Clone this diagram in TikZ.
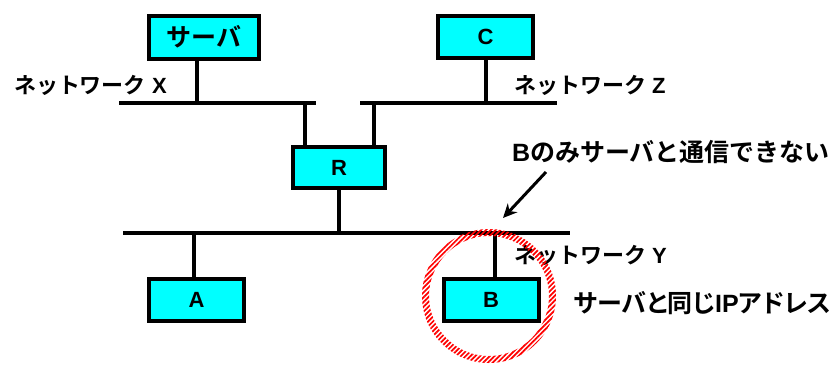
\documentclass[tikz,border=0pt]{standalone}
\usepackage{fontspec}
\setmainfont{Liberation Sans}
\newfontfamily\jp{Noto Sans CJK JP}[BoldFont={Noto Sans CJK JP Bold}]
\newfontfamily\jpp{Noto Sans CJK JP}[BoldFont={Noto Sans CJK JP Bold}, RawFeature=+palt]
\usetikzlibrary{arrows.meta,patterns.meta}
\definecolor{hostcyan}{rgb}{0,1,1}

\begin{document}
\begin{tikzpicture}[x=1pt, y=-1pt, line width=4pt, line cap=rect]

	\tikzstyle{host}=[draw, fill=hostcyan, minimum width=95pt, minimum height=42pt,
	                  inner sep=0pt, font=\fontsize{22}{22}\selectfont\bfseries]
	\tikzstyle{lbl}=[anchor=west, inner sep=0pt, font=\fontsize{22}{22}\selectfont\bfseries]
	\tikzstyle{big}=[anchor=west, inner sep=0pt, font=\fontsize{25}{25}\selectfont\bfseries]
    \def\busx{103}
    \def\busy{233}

    \useasboundingbox (0,0) rectangle (836,365);

    % hosts
    \node [host, minimum width=110pt, minimum height=43pt,
           font=\fontsize{25}{25}\selectfont\bfseries\jp] (srv) at (204,37) {サーバ};
    \node [host] (C) at (485.5,37) {C};
    \node [host, minimum width=92pt, minimum height=41pt] (R) at (339,167.5) {R};
    \node [host] (A) at (196.5,300) {A};
    \node [host] (B) at (491,300) {B};

    % buses
    \coordinate (xl) at (121,\busx);
    \coordinate (xr) at (314,\busx);
    \coordinate (zl) at (362,\busx);
    \coordinate (zr) at (555,\busx);
    \coordinate (yl) at (125,\busy);
    \coordinate (yr) at (568,\busy);
    \draw (xl) -- (xr);
    \draw (zl) -- (zr);
    \draw (yl) -- (yr);

    % drops
    \draw (srv.south -| 197,0) -- (197,\busx);
    \draw (C.south) -- (C.south |- zl);
    \draw (305,\busx) -- (R.north -| 305,0);
    \draw (374,\busx) -- (R.north -| 374,0);
    \draw (R.south) -- (R.south |- yl);
    \draw (194,\busy) -- (A.north -| 194,0);
    \draw (495,\busy) -- (B.north -| 495,0);

    % labels
    \node [lbl] (netX) at (12,85) {\jp ネットワーク\rmfamily\bfseries{} X};
    \node [lbl] (netZ) at (512,85) {\jp ネットワーク\rmfamily\bfseries{} Z};
    \node [lbl] (netY) at (512,255) {\jp ネットワーク\rmfamily\bfseries{} Y};
    \node [big] (note) at (510,152) {B\jp のみサーバと通信できない};
    \node [big] (same) at (572,303) {{\jpp サーバと同じ}IP{\jpp アドレス}};

    % red ring round B
    \coordinate (ring) at (489,296);
    \fill [pattern={Lines[angle=45, distance=3.4pt, line width=1.7pt]}, pattern color=red, even odd rule]
      (ring) circle (67pt) (ring) circle (60pt);

    % arrow to B
    \coordinate (tail) at (546,172);
    \coordinate (tip) at (503,218);
    \draw [line width=3pt, line cap=butt, -{Stealth[length=14pt, width=13pt]}] (tail) -- (tip);

\end{tikzpicture}
\end{document}
